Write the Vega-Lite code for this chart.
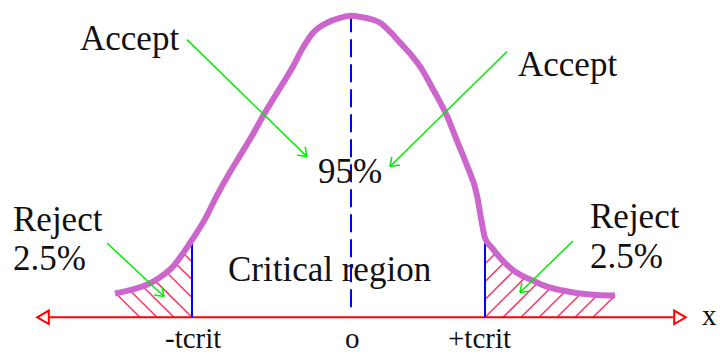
{
  "$schema": "https://vega.github.io/schema/vega-lite/v6.json",
  "width": 720,
  "height": 354,
  "autosize": {"type": "fit", "contains": "padding"},
  "padding": 0,
  "background": "white",
  "config": {"view": {"stroke": null}},
  "datasets": {
    "curve": [
      {"x":115,"y":24},{"x":132,"y":28},{"x":145,"y":32},{"x":155,"y":37},{"x":165,"y":44},{"x":172,"y":50},{"x":182,"y":63},{"x":192,"y":78},{"x":205,"y":99},{"x":217,"y":123},{"x":228,"y":143},{"x":240,"y":163},{"x":252,"y":183},{"x":263,"y":203},{"x":278,"y":228},{"x":293,"y":253},{"x":303,"y":272},{"x":313,"y":287},{"x":325,"y":296},{"x":340,"y":302},{"x":352,"y":304},{"x":360,"y":303},{"x":370,"y":301},{"x":380,"y":297},{"x":390,"y":288},{"x":400,"y":277},{"x":410,"y":266},{"x":420,"y":253},{"x":433,"y":230},{"x":447,"y":203},{"x":457,"y":178},{"x":467,"y":153},{"x":477,"y":123},{"x":481,"y":100},{"x":485,"y":80},{"x":492,"y":70},{"x":500,"y":60},{"x":510,"y":50},{"x":520,"y":43},{"x":533,"y":37},{"x":547,"y":31},{"x":563,"y":27},{"x":580,"y":24},{"x":597,"y":22.5},{"x":615,"y":22}
    ],
    "hatch": [
      {"x":116,"y":24,"x2":140,"y2":0},{"x":129.5,"y":27.5,"x2":157,"y2":0},{"x":142.7,"y":31.3,"x2":174,"y2":0},{"x":155,"y":37,"x2":192,"y2":0},{"x":166.5,"y":45.5,"x2":192,"y2":20},{"x":175.5,"y":54.5,"x2":192,"y2":38},{"x":183.3,"y":64.7,"x2":192,"y2":56},
      {"x":485,"y":0,"x2":525.5,"y2":40.5},{"x":503,"y":0,"x2":538,"y2":35},{"x":521,"y":0,"x2":551,"y2":30},{"x":539,"y":0,"x2":565.5,"y2":26.5},{"x":557,"y":0,"x2":581,"y2":24},{"x":575,"y":0,"x2":597,"y2":22},{"x":593,"y":0,"x2":615,"y2":22},{"x":485,"y":18,"x2":514,"y2":47},{"x":485,"y":36,"x2":504.5,"y2":55.5},{"x":485,"y":54,"x2":496,"y2":65}
    ],
    "axisline": [{"x":50,"y":0,"x2":673,"y2":0}],
    "axisheads": [{"x":43,"y":0,"dir":"left"},{"x":680,"y":0,"dir":"right"}],
    "crit": [{"x":192,"y":0,"x2":192,"y2":78},{"x":485,"y":0,"x2":485,"y2":80}],
    "center": [{"x":351,"y":10,"x2":351,"y2":304}],
    "arrows": [
      {"x":187,"y":280,"x2":307,"y2":162},{"x":307,"y":162,"x2":305.2,"y2":171.8},{"x":307,"y":162,"x2":297.1,"y2":163.7},
      {"x":507,"y":268,"x2":390,"y2":152},{"x":390,"y":152,"x2":399.9,"y2":153.7},{"x":390,"y":152,"x2":391.8,"y2":161.8},
      {"x":107,"y":75,"x2":164,"y2":21},{"x":164,"y":21,"x2":162,"y2":30.8},{"x":164,"y":21,"x2":154.1,"y2":22.5},
      {"x":573,"y":77,"x2":520,"y2":25},{"x":520,"y":25,"x2":529.9,"y2":26.6},{"x":520,"y":25,"x2":521.8,"y2":34.8}
    ],
    "bigtext": [
      {"label":"Accept","x":80,"y":270},{"label":"Accept","x":518,"y":243},{"label":"95%","x":318,"y":135},
      {"label":"Reject","x":13,"y":87},{"label":"2.5%","x":13,"y":48},
      {"label":"Reject","x":590,"y":90},{"label":"2.5%","x":590,"y":50},
      {"label":"Critical region","x":228,"y":37}
    ],
    "smalltext": [
      {"label":"-tcrit","x":165,"y":-31},{"label":"o","x":345,"y":-31},{"label":"+tcrit","x":448,"y":-31},{"label":"x","x":702,"y":-8}
    ]
  },
  "encoding": {
    "x": {"field": "x", "type": "quantitative", "scale": {"domain": [0, 720], "nice": false, "zero": false}, "axis": null},
    "y": {"field": "y", "type": "quantitative", "scale": {"domain": [-34, 320], "nice": false, "zero": false}, "axis": null}
  },
  "layer": [
    {
      "data": {"name": "hatch"},
      "mark": {"type": "rule", "color": "#ff3366", "strokeWidth": 1.5},
      "encoding": {"x2": {"field": "x2"}, "y2": {"field": "y2"}}
    },
    {
      "data": {"name": "axisline"},
      "mark": {"type": "rule", "color": "#ff0000", "strokeWidth": 2},
      "encoding": {"x2": {"field": "x2"}, "y2": {"field": "y2"}}
    },
    {
      "data": {"name": "axisheads"},
      "transform": [{"filter": "datum.dir == 'left'"}],
      "mark": {"type": "point", "shape": "triangle-left", "size": 180, "filled": false, "fill": "white", "fillOpacity": 1, "stroke": "#ff0000", "strokeWidth": 2, "opacity": 1},
      "encoding": {}
    },
    {
      "data": {"name": "axisheads"},
      "transform": [{"filter": "datum.dir == 'right'"}],
      "mark": {"type": "point", "shape": "triangle-right", "size": 180, "filled": false, "fill": "white", "fillOpacity": 1, "stroke": "#ff0000", "strokeWidth": 2, "opacity": 1},
      "encoding": {}
    },
    {
      "data": {"name": "crit"},
      "mark": {"type": "rule", "color": "#0000ff", "strokeWidth": 2},
      "encoding": {"x2": {"field": "x2"}, "y2": {"field": "y2"}}
    },
    {
      "data": {"name": "center"},
      "mark": {"type": "rule", "color": "#0000ff", "strokeWidth": 2, "strokeDash": [18, 7]},
      "encoding": {"x2": {"field": "x2"}, "y2": {"field": "y2"}}
    },
    {
      "data": {"name": "curve"},
      "mark": {"type": "line", "color": "#cc66cc", "strokeWidth": 6, "interpolate": "monotone", "strokeCap": "butt"},
      "encoding": {}
    },
    {
      "data": {"name": "arrows"},
      "mark": {"type": "rule", "color": "#00ee00", "strokeWidth": 1.5},
      "encoding": {"x2": {"field": "x2"}, "y2": {"field": "y2"}}
    },
    {
      "data": {"name": "bigtext"},
      "mark": {"type": "text", "font": "Liberation Serif", "fontSize": 35, "align": "left", "baseline": "alphabetic", "color": "#111111"},
      "encoding": {"text": {"field": "label"}}
    },
    {
      "data": {"name": "smalltext"},
      "mark": {"type": "text", "font": "Liberation Serif", "fontSize": 29, "align": "left", "baseline": "alphabetic", "color": "#111111"},
      "encoding": {"text": {"field": "label"}}
    }
  ]
}
